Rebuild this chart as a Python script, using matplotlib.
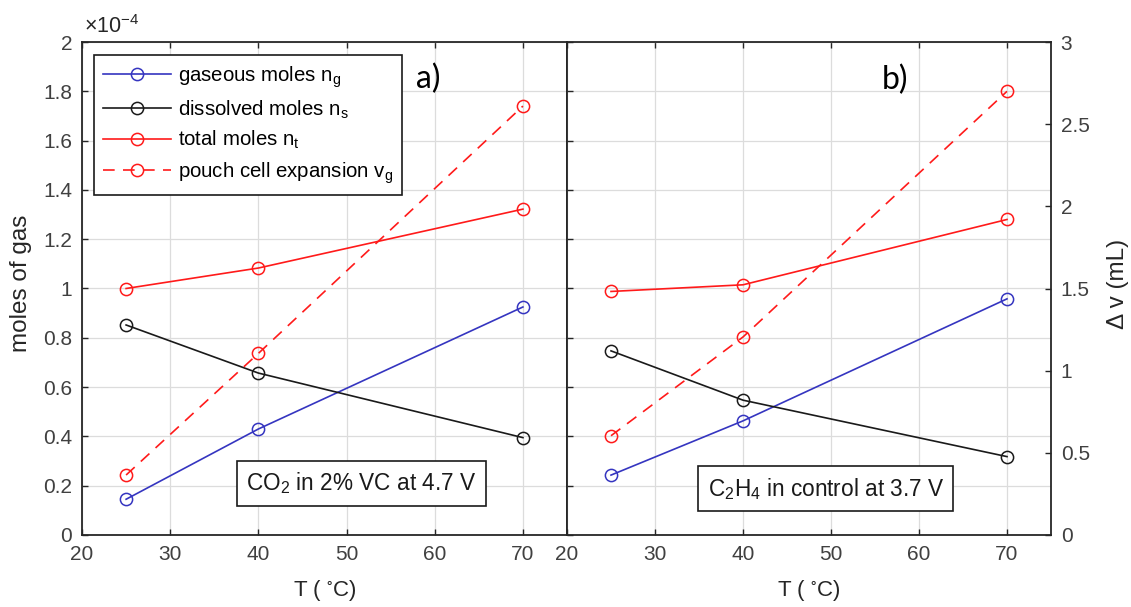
import matplotlib
matplotlib.use('Agg')
import matplotlib.pyplot as plt
from matplotlib.ticker import MultipleLocator, FuncFormatter

plt.rcParams['font.family'] = ['Liberation Sans', 'DejaVu Sans']
plt.rcParams['mathtext.default'] = 'regular'

# ---- data ----
T = [25, 40, 70]                       # temperature (deg C)
# panel a: CO2 in 2% VC at 4.7 V  (moles in units of 1e-4)
ng_a = [0.145, 0.43, 0.925]
ns_a = [0.852, 0.657, 0.395]
nt_a = [1.0, 1.083, 1.322]
vg_a = [0.365, 1.105, 2.61]           # mL
# panel b: C2H4 in control at 3.7 V
ng_b = [0.243, 0.463, 0.958]
ns_b = [0.747, 0.547, 0.318]
nt_b = [0.988, 1.015, 1.28]
vg_b = [0.604, 1.205, 2.70]           # mL

labels = ['gaseous moles n$_g$', 'dissolved moles n$_s$',
          'total moles n$_t$', 'pouch cell expansion v$_g$']
xticks = [20, 30, 40, 50, 60, 70]

BLUE = '#3535c0'
RED = '#ff1a1a'
BLACK = '#1a1a1a'
TICKC = '#404040'
SPINE = '#262626'
GRID = '#dcdcdc'
TFS = 15      # tick font size
LFS = 17.5    # axis label font size

W, H = 1131, 607
fig = plt.figure(figsize=(W / 100, H / 100), dpi=100)
axA = fig.add_axes([82 / W, 72 / H, 485 / W, 493 / H])
axB = fig.add_axes([567 / W, 72 / H, 484 / W, 493 / H])

mk = dict(marker='o', markersize=8.8, markerfacecolor='none', markeredgewidth=1.1, linewidth=1.2)

def style(ax):
    ax.set_xlim(20, 75)
    ax.set_ylim(0, 2)
    ax.set_xticks(xticks)
    ax.yaxis.set_major_locator(MultipleLocator(0.2))
    ax.yaxis.set_major_formatter(FuncFormatter(lambda v, p: '%g' % round(v, 1)))
    ax.grid(True, color=GRID, linewidth=0.9)
    ax.set_axisbelow(True)
    ax.tick_params(direction='in', length=4, width=1, top=True, right=True,
                   labelsize=TFS, colors=SPINE, labelcolor=TICKC, pad=7)
    for s in ax.spines.values():
        s.set_color(SPINE)
        s.set_linewidth(1.3)

twins = []
handles = []
for ax, ng, ns, nt, vg in [(axA, ng_a, ns_a, nt_a, vg_a), (axB, ng_b, ns_b, nt_b, vg_b)]:
    style(ax)
    tw = ax.twinx()
    tw.set_ylim(0, 3)
    tw.set_xlim(20, 75)
    for s in tw.spines.values():
        s.set_visible(False)
    h1, = ax.plot(T, ng, color=BLUE, **mk)
    h2, = ax.plot(T, ns, color=BLACK, **mk)
    h3, = ax.plot(T, nt, color=RED, **mk)
    h4, = tw.plot(T, vg, color=RED, linestyle=(0, (7, 5)), **mk)
    handles = [h1, h2, h3, h4]
    twins.append(tw)

twA, twB = twins
twA.set_yticks([])
twB.yaxis.set_major_locator(MultipleLocator(0.5))
twB.yaxis.set_major_formatter(FuncFormatter(lambda v, p: '%g' % v))
twB.tick_params(direction='in', length=4, width=1, labelsize=TFS,
                colors=SPINE, labelcolor=TICKC, pad=7)
twB.set_ylabel('Δ v (mL)', fontsize=LFS, color=SPINE)
twB.yaxis.set_label_coords(1.116, 0.51)

axB.tick_params(labelleft=False)

axA.set_ylabel('moles of gas', fontsize=LFS, color=SPINE)
axA.yaxis.set_label_coords(-0.103, 0.511)
for ax in (axA, axB):
    ax.set_xlabel('T ( $^{\\circ}$C)', fontsize=16, color=SPINE)
    ax.xaxis.set_label_coords(0.5, -0.088)

fig.text(84 / W, 1 - 27 / H, '×10$^{-4}$', fontsize=15.5, color=SPINE, ha='left', va='center')

leg = twA.legend(handles, labels, loc='upper left', bbox_to_anchor=(94 / W, 1 - 55 / H),
                 bbox_transform=fig.transFigure, borderaxespad=0, fontsize=14.7,
                 handlelength=3.3, handletextpad=0.35, labelspacing=0.42, borderpad=0.45,
                 fancybox=False, framealpha=1)
leg.get_frame().set_edgecolor(BLACK)
leg.get_frame().set_linewidth(1.2)

axA.text(59.3, 1.85, 'a)', fontsize=23, family=['Lato', 'DejaVu Sans'], ha='center', va='center', color='black')
axB.text(57.3, 1.846, 'b)', fontsize=23, family=['Lato', 'DejaVu Sans'], ha='center', va='center', color='black')

box = dict(boxstyle='square,pad=0.42', fc='white', ec=BLACK, lw=1.2)
axA.text(51.7, 0.21, 'CO$_2$ in 2% VC at 4.7 V', fontsize=16.3, ha='center', va='center',
         color=BLACK, bbox=box, zorder=5)
axB.text(49.4, 0.187, 'C$_2$H$_4$ in control at 3.7 V', fontsize=16.3, ha='center', va='center',
         color=BLACK, bbox=box, zorder=5)

fig.savefig('out.png', dpi=100)
